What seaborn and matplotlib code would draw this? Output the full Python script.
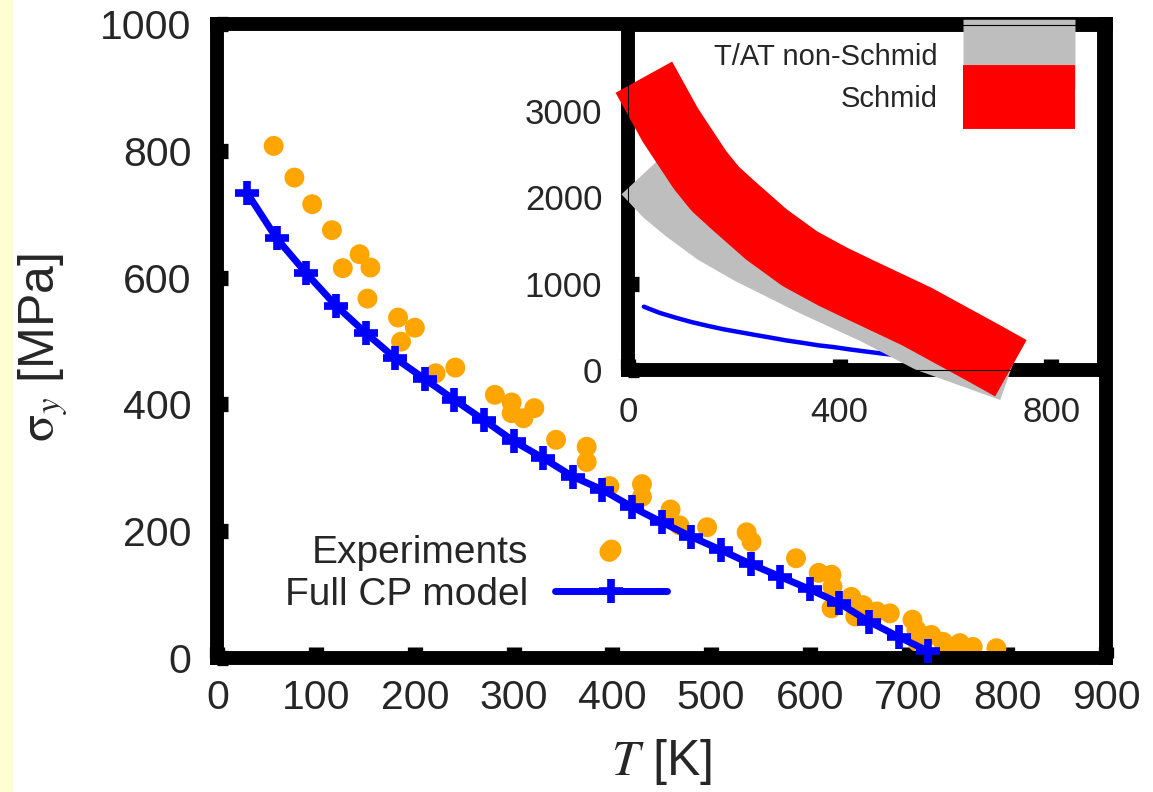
import matplotlib
matplotlib.use("Agg")
import matplotlib.pyplot as plt
import seaborn as sns
from matplotlib.lines import Line2D
from matplotlib.patches import Rectangle

# ---------------- data ----------------
# Measured yield stress vs. temperature
exp_T = [57, 78, 96, 116, 127, 144, 155, 152, 183, 186, 200, 221, 241,
         281, 298, 298, 310, 321, 343, 374, 374, 397, 397, 430, 430, 459,
         468, 496, 536, 541, 586, 609, 622, 623, 622, 642, 654, 646, 668,
         681, 704, 708, 723, 709, 735, 752, 765, 741, 789]
exp_sigma = [808, 758, 716, 675, 615, 637, 616, 567, 537, 499, 521, 449, 458,
             415, 403, 386, 378, 394, 344, 333, 309, 271, 167, 274, 254, 234,
             209, 206, 198, 183, 157, 134, 131, 112, 78, 96, 83, 65, 73,
             70, 60, 44, 36, 25, 25, 23, 17, 15, 15]

# Full crystal-plasticity model
model_T = [30, 60, 90, 120, 150, 180, 210, 240, 270, 300, 330, 360,
           390, 420, 450, 480, 510, 540, 570, 600, 630, 660, 690, 720]
model_sigma = [734, 662, 607, 556, 513, 473, 440, 407, 375, 342, 315, 286,
               265, 238, 214, 191, 170, 148, 128, 108, 86, 57, 33, 10]

# Inset: yield stress bands of the simplified models
schmid_T = [30, 80, 136, 165, 199, 262, 325, 388, 439, 546, 672, 724]
schmid_sigma = [3395, 2840, 2320, 2100, 1910, 1570, 1290, 1080, 930, 620,
                198, 20]
nonschmid_T = [32, 70, 109, 165, 229, 349, 466, 568, 724]
nonschmid_sigma = [2290, 2040, 1842, 1590, 1365, 998, 668, 344, 1]

main_xticks = [0, 100, 200, 300, 400, 500, 600, 700, 800, 900]
main_yticks = [0, 200, 400, 600, 800, 1000]
inset_xticks = [0, 400, 800]
inset_yticks = [0, 1000, 2000, 3000]

# ---------------- style ----------------
sns.set_style("white")
plt.rcParams["font.family"] = ["Liberation Sans", "DejaVu Sans"]
plt.rcParams["mathtext.fontset"] = "stix"

W, H = 1153, 792
fig = plt.figure(figsize=(W / 100, H / 100), dpi=100)
fig.patch.set_facecolor("white")
fig.add_artist(Rectangle((0, 0), 13 / W, 1, transform=fig.transFigure,
                         facecolor="#FFFDD2", edgecolor="none", zorder=0))

SPINE_W = 10
BLUE = "#0000FF"
ORANGE = "#FFA500"


def frame(ax, tick_len=8, tick_w=11):
    for s in ax.spines.values():
        s.set_linewidth(SPINE_W)
        s.set_color("black")
        s.set_capstyle("projecting")
        s.set_visible(True)
    ax.tick_params(direction="in", length=tick_len, width=tick_w,
                   color="black", top=False, right=False,
                   left=True, bottom=True)


# ---------------- main panel ----------------
ax = fig.add_axes([217.4 / W, 1 - 657.7 / H, (1106 - 217.4) / W, (657.7 - 24.3) / H])
ax.set_facecolor("white")

sns.scatterplot(x=exp_T, y=exp_sigma, ax=ax, color=ORANGE, s=205,
                edgecolor="none", linewidth=0, zorder=2, legend=False)
sns.lineplot(x=model_T, y=model_sigma, ax=ax, color=BLUE, lw=5,
             marker="+", markersize=17, markeredgewidth=5.5,
             markeredgecolor=BLUE, markerfacecolor=BLUE, zorder=3,
             legend=False, clip_on=False)

ax.set_xlim(0, 900)
ax.set_ylim(0, 1000)
ax.set_xticks(main_xticks)
ax.set_yticks(main_yticks)
ax.set_xticklabels([str(v) for v in main_xticks])
ax.set_yticklabels([str(v) for v in main_yticks])
frame(ax)
ax.tick_params(axis="y", labelsize=29.5, pad=18.5)
ax.tick_params(axis="x", labelsize=29.5, pad=15.5)

ax.set_xlabel(r"$T$ [K]", fontsize=36)
ax.set_ylabel(r"$\mathrm{\sigma}_y$ [MPa]", fontsize=36)
ax.xaxis.set_label_coords(0.5, -0.125)
ax.yaxis.set_label_coords(-0.166, 0.49)

h_exp = Line2D([], [], ls="none", marker="o", color=ORANGE,
               markersize=14.3, markeredgewidth=0)
h_mod = Line2D([], [], color=BLUE, lw=5, marker="+", markersize=17,
               markeredgewidth=5.5, markeredgecolor=BLUE)
ax.legend([h_exp, h_mod], ["Experiments", "Full CP model"],
          loc="center right", bbox_to_anchor=(667 / W, 1 - 574 / H),
          bbox_transform=fig.transFigure, frameon=False, fontsize=28,
          markerfirst=False, handlelength=2.88, handletextpad=0.7,
          labelspacing=0.15, borderpad=0, borderaxespad=0, numpoints=1)

# ---------------- inset ----------------
axi = fig.add_axes([628 / W, 1 - 370 / H, (1104 - 628) / W, (370 - 25) / H])
axi.set_facecolor("white")
axi.set_axisbelow(True)

sns.lineplot(x=model_T, y=model_sigma, ax=axi, color=BLUE, lw=3.2,
             zorder=3, legend=False)
sns.lineplot(x=nonschmid_T, y=nonschmid_sigma, ax=axi, color="#BEBEBE",
             lw=46, solid_capstyle="butt", solid_joinstyle="round",
             zorder=3.1, legend=False, clip_on=False)
sns.lineplot(x=schmid_T, y=schmid_sigma, ax=axi, color="#FF0000",
             lw=46.5, solid_capstyle="butt", solid_joinstyle="round",
             zorder=3.2, legend=False, clip_on=False)

axi.set_xlim(0, 900)
axi.set_ylim(0, 4000)
axi.set_xticks(inset_xticks)
axi.set_yticks(inset_yticks)
axi.set_xticklabels([str(v) for v in inset_xticks])
axi.set_yticklabels([str(v) for v in inset_yticks])
frame(axi)
axi.tick_params(axis="y", labelsize=25, pad=18.5)
axi.tick_params(axis="x", labelsize=25, pad=18.5)

h_ns = Line2D([], [], color="#BEBEBE", lw=50, solid_capstyle="butt")
h_s = Line2D([], [], color="#FF0000", lw=46, solid_capstyle="butt")
axi.legend([h_ns, h_s], ["T/AT non-Schmid", "Schmid"],
           loc="center right", bbox_to_anchor=(1075 / W, 1 - 78 / H),
           bbox_transform=fig.transFigure, frameon=False, fontsize=21,
           markerfirst=False, handlelength=3.84, handletextpad=0.86,
           labelspacing=0.5, borderpad=0, borderaxespad=0)

# thin outline of the inset frame, drawn on top of everything
axi.add_patch(Rectangle((0, 0), 1, 1, transform=axi.transAxes, fill=False,
                        edgecolor="black", lw=0.8, zorder=10, clip_on=False))

fig.savefig("out.png", dpi=100, facecolor=fig.get_facecolor())
